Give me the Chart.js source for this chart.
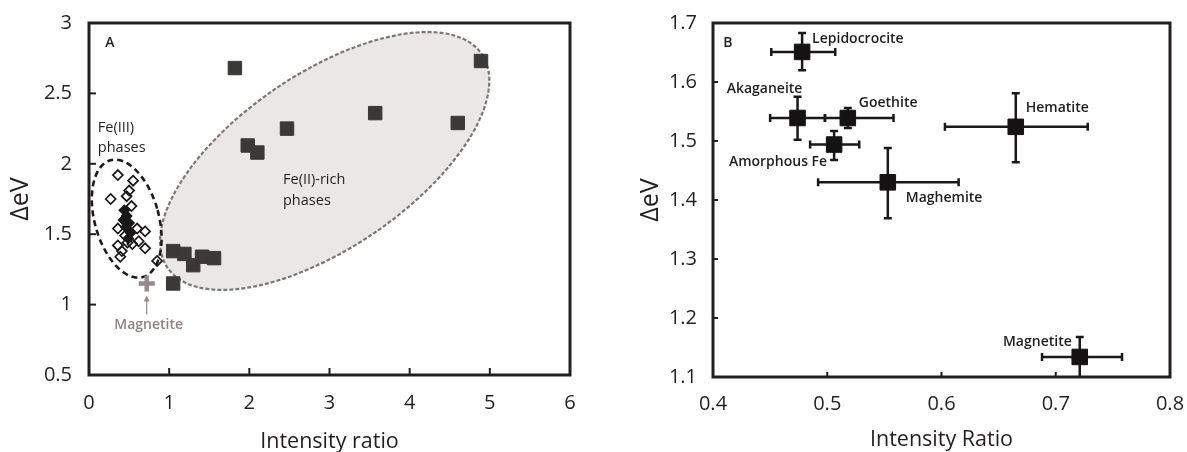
<!DOCTYPE html>
<html>
<head>
<meta charset="utf-8">
<script src="https://cdn.jsdelivr.net/npm/chart.js@4.4.0/dist/chart.umd.min.js"></script>
<style>
  html, body { margin: 0; padding: 0; background: #fff; }
  #wrap { position: relative; width: 1187px; height: 452px; }
  canvas { position: absolute; top: 0; }
  #chartA { left: 0; }
  #chartB { left: 590px; }
</style>
</head>
<body>
<div id="wrap">
  <canvas id="chartA" width="590" height="452"></canvas>
  <canvas id="chartB" width="597" height="452"></canvas>
</div>
<script>
// ---- Panel A: splitting vs. intensity ratio for all spectra ----
const fe3Open = [
  [0.36, 1.92], [0.55, 1.88], [0.50, 1.81], [0.27, 1.75], [0.47, 1.77],
  [0.53, 1.70], [0.36, 1.54], [0.60, 1.54], [0.70, 1.52], [0.45, 1.49],
  [0.62, 1.45], [0.48, 1.44], [0.54, 1.43], [0.36, 1.42], [0.70, 1.40],
  [0.41, 1.38], [0.39, 1.34], [0.85, 1.31]
];
const fe3Filled = [
  [0.44, 1.67], [0.47, 1.63], [0.43, 1.60], [0.50, 1.58], [0.46, 1.55],
  [0.52, 1.51], [0.49, 1.47]
];
const fe2Rich = [
  [1.82, 2.68], [1.98, 2.13], [2.10, 2.08], [2.47, 2.25], [3.57, 2.36],
  [4.60, 2.29], [4.89, 2.73],
  [1.05, 1.38], [1.19, 1.36], [1.30, 1.28], [1.41, 1.34], [1.56, 1.33], [1.05, 1.15]
];
const magnetiteA = [[0.72, 1.15]];

// ---- Panel B: reference minerals (mean and spread) ----
const minerals = ['Lepidocrocite', 'Akaganeite', 'Goethite', 'Amorphous Fe', 'Maghemite', 'Hematite', 'Magnetite'];
const ratioB  = [0.478, 0.474, 0.518, 0.506, 0.553, 0.665, 0.721];
const deltaB  = [1.651, 1.539, 1.539, 1.494, 1.430, 1.524, 1.134];
const ratioLo = [0.451, 0.450, 0.498, 0.485, 0.492, 0.603, 0.688];
const ratioHi = [0.507, 0.498, 0.558, 0.528, 0.615, 0.728, 0.758];
const deltaLo = [1.620, 1.502, 1.522, 1.468, 1.369, 1.464, 1.090];
const deltaHi = [1.683, 1.575, 1.556, 1.517, 1.488, 1.581, 1.168];

// label placement around each mineral point: [dx, dy, align]
const labelPos = [
  [10, -13, 'left'], [-33, -29, 'center'], [11, -15, 'left'], [-7, 17, 'right'],
  [18, 16, 'left'], [10, -19, 'left'], [-8, -15, 'right']
];

// group outlines in panel A (centre in data units, radii in x-axis units)
const fe2Ellipse = { cx: 2.94, cy: 2.02, rx: 2.37, ry: 1.09, angle: -34.2 };
const fe3Ellipse = { cx: 0.47, cy: 1.61, rx: 0.40, ry: 0.756, angle: -15.5 };

const INK = '#231f20';
Chart.defaults.font.family = "'Open Sans', sans-serif";
Chart.defaults.color = INK;

const toXY = arr => arr.map(([x, y]) => ({ x, y }));
const plain = v => String(Number(v.toFixed(2)));

// fixed axis bands so the plot box lands in the same place every time
const fixX = h => s => { s.height = h; s.paddingLeft = 0; s.paddingRight = 0; };
const fixY = w => s => { s.width = w; s.paddingTop = 0; s.paddingBottom = 0; };

// box around the plot plus short inward tick marks
const frame = {
  id: 'frame',
  afterDraw(chart, args, opts) {
    const { ctx, chartArea: a, scales } = chart;
    ctx.save();
    ctx.strokeStyle = INK;
    ctx.lineWidth = 2;
    scales.x.ticks.forEach(t => {
      const px = scales.x.getPixelForValue(t.value);
      if (px <= a.left + 2 || px >= a.right - 2) return;
      ctx.beginPath(); ctx.moveTo(px, a.bottom); ctx.lineTo(px, a.bottom - opts.tick); ctx.stroke();
    });
    scales.y.ticks.forEach(t => {
      const py = scales.y.getPixelForValue(t.value);
      if (py <= a.top + 2 || py >= a.bottom - 2) return;
      ctx.beginPath(); ctx.moveTo(a.left, py); ctx.lineTo(a.left + opts.tick, py); ctx.stroke();
    });
    ctx.lineWidth = 3;
    ctx.strokeRect(a.left, a.top, a.right - a.left, a.bottom - a.top);
    ctx.restore();
  }
};

function text(ctx, str, x, y, font, color, align) {
  ctx.font = font;
  ctx.fillStyle = color;
  ctx.textAlign = align || 'left';
  ctx.textBaseline = 'middle';
  ctx.fillText(str, x, y);
}

// ellipses behind the points, labels on top
const groupsA = {
  id: 'groupsA',
  beforeDatasetsDraw(chart) {
    const { ctx, scales: { x, y } } = chart;
    const k = x.getPixelForValue(1) - x.getPixelForValue(0);
    const draw = (e, fill, stroke, width, dash) => {
      ctx.save();
      ctx.beginPath();
      ctx.ellipse(x.getPixelForValue(e.cx), y.getPixelForValue(e.cy), e.rx * k, e.ry * k,
        e.angle * Math.PI / 180, 0, Math.PI * 2);
      if (fill) { ctx.fillStyle = fill; ctx.fill(); }
      ctx.setLineDash(dash);
      ctx.lineWidth = width;
      ctx.strokeStyle = stroke;
      ctx.stroke();
      ctx.restore();
    };
    draw(fe2Ellipse, '#ece7e7', '#7d7676', 2.2, [4, 2]);
    draw(fe3Ellipse, null, '#1c1a1a', 2.6, [6, 4]);
  },
  afterDatasetsDraw(chart) {
    const { ctx, scales: { x, y } } = chart;
    ctx.save();
    const f = "14.5px 'Open Sans', sans-serif";
    text(ctx, 'A', x.getPixelForValue(0.26), y.getPixelForValue(2.858), "600 14px 'Open Sans', sans-serif", INK, 'center');
    text(ctx, 'Fe(III)', x.getPixelForValue(0.11), y.getPixelForValue(2.254), f, INK);
    text(ctx, 'phases', x.getPixelForValue(0.11), y.getPixelForValue(2.112), f, INK);
    text(ctx, 'Fe(II)-rich', x.getPixelForValue(2.42), y.getPixelForValue(1.885), f, INK);
    text(ctx, 'phases', x.getPixelForValue(2.42), y.getPixelForValue(1.736), f, INK);
    // arrow pointing at the magnetite marker
    const mx = x.getPixelForValue(magnetiteA[0][0]);
    const my = y.getPixelForValue(magnetiteA[0][1]);
    ctx.strokeStyle = '#958a88';
    ctx.fillStyle = '#958a88';
    ctx.lineWidth = 1.2;
    ctx.beginPath(); ctx.moveTo(mx, my + 31); ctx.lineTo(mx, my + 13); ctx.stroke();
    ctx.beginPath(); ctx.moveTo(mx, my + 12); ctx.lineTo(mx - 3, my + 18); ctx.lineTo(mx + 3, my + 18); ctx.closePath(); ctx.fill();
    text(ctx, 'Magnetite', mx + 2, my + 42, "600 14px 'Open Sans', sans-serif", '#8e8381', 'center');
    ctx.restore();
  }
};

new Chart(document.getElementById('chartA'), {
  type: 'scatter',
  data: {
    datasets: [
      { data: toXY(fe2Rich), pointStyle: 'rect', pointRadius: 9.5, backgroundColor: '#3b3838', borderColor: '#3b3838', borderWidth: 1 },
      { data: toXY(fe3Filled), pointStyle: 'rectRot', pointRadius: 5, backgroundColor: '#1a1818', borderColor: '#1a1818', borderWidth: 1.5 },
      { data: toXY(fe3Open), pointStyle: 'rectRot', pointRadius: 5, backgroundColor: 'rgba(255,255,255,0)', borderColor: '#1a1818', borderWidth: 1.7 },
      { data: toXY(magnetiteA), pointStyle: 'cross', pointRadius: 8, borderColor: '#958a88', borderWidth: 4.5 }
    ]
  },
  options: {
    responsive: false,
    animation: false,
    devicePixelRatio: 1,
    layout: { padding: { top: 23, right: 20, left: 0, bottom: 0 } },
    plugins: { legend: { display: false }, tooltip: { enabled: false }, frame: { tick: 7 } },
    scales: {
      x: {
        type: 'linear', min: 0, max: 6,
        ticks: { stepSize: 1, padding: 8, font: { size: 20 }, color: INK, callback: plain },
        grid: { display: false }, border: { display: false },
        title: { display: true, text: 'Intensity ratio', font: { size: 21.5 }, color: INK, padding: { bottom: -3 } },
        afterFit: fixX(77)
      },
      y: {
        type: 'linear', min: 0.5, max: 3,
        ticks: { stepSize: 0.5, padding: 9, font: { size: 20 }, color: INK, callback: plain },
        grid: { display: false }, border: { display: false },
        title: { display: true, text: 'ΔeV', font: { size: 25 }, color: INK, padding: { top: 6 } },
        afterFit: fixY(89)
      }
    }
  },
  plugins: [groupsA, frame]
});

// error bars and mineral names for panel B
const errorBars = {
  id: 'errorBars',
  beforeDatasetsDraw(chart) {
    const { ctx, chartArea: a, scales: { x, y } } = chart;
    ctx.save();
    ctx.beginPath();
    ctx.rect(a.left, a.top, a.right - a.left, a.bottom - a.top);
    ctx.clip();
    ctx.strokeStyle = '#1a1818';
    ctx.lineWidth = 2.5;
    const cap = 4;
    ratioB.forEach((r, i) => {
      const px = x.getPixelForValue(r), py = y.getPixelForValue(deltaB[i]);
      const x0 = x.getPixelForValue(ratioLo[i]), x1 = x.getPixelForValue(ratioHi[i]);
      const y0 = y.getPixelForValue(deltaLo[i]), y1 = y.getPixelForValue(deltaHi[i]);
      ctx.beginPath();
      ctx.moveTo(x0, py); ctx.lineTo(x1, py);
      ctx.moveTo(x0, py - cap); ctx.lineTo(x0, py + cap);
      ctx.moveTo(x1, py - cap); ctx.lineTo(x1, py + cap);
      ctx.moveTo(px, y0); ctx.lineTo(px, y1);
      ctx.moveTo(px - cap, y0); ctx.lineTo(px + cap, y0);
      ctx.moveTo(px - cap, y1); ctx.lineTo(px + cap, y1);
      ctx.stroke();
    });
    ctx.restore();
  },
  afterDatasetsDraw(chart) {
    const { ctx, scales: { x, y } } = chart;
    ctx.save();
    const f = "600 14px 'Open Sans', sans-serif";
    minerals.forEach((name, i) => {
      const [dx, dy, align] = labelPos[i];
      text(ctx, name, x.getPixelForValue(ratioB[i]) + dx, y.getPixelForValue(deltaB[i]) + dy, f, '#1f1d1d', align);
    });
    text(ctx, 'B', x.getPixelForValue(0.413), y.getPixelForValue(1.666), "600 14px 'Open Sans', sans-serif", INK, 'center');
    ctx.restore();
  }
};

new Chart(document.getElementById('chartB'), {
  type: 'scatter',
  data: {
    datasets: [{
      data: ratioB.map((r, i) => ({ x: r, y: deltaB[i] })),
      pointStyle: 'rect', pointRadius: 11, backgroundColor: '#141212', borderColor: '#141212', borderWidth: 1
    }]
  },
  options: {
    responsive: false,
    animation: false,
    devicePixelRatio: 1,
    layout: { padding: { top: 23, right: 17, left: 0, bottom: 0 } },
    plugins: { legend: { display: false }, tooltip: { enabled: false }, frame: { tick: 5 } },
    scales: {
      x: {
        type: 'linear', min: 0.4, max: 0.8,
        ticks: { stepSize: 0.1, padding: 7, font: { size: 20 }, color: INK, callback: plain },
        grid: { display: false }, border: { display: false },
        title: { display: true, text: 'Intensity Ratio', font: { size: 21.5 }, color: INK, padding: { bottom: -1 } },
        afterFit: fixX(75)
      },
      y: {
        type: 'linear', min: 1.1, max: 1.7,
        ticks: { stepSize: 0.1, padding: 8, font: { size: 20 }, color: INK, callback: plain },
        grid: { display: false }, border: { display: false },
        title: { display: true, text: 'ΔeV', font: { size: 25 }, color: INK, padding: { top: 46 } },
        afterFit: fixY(123)
      }
    }
  },
  plugins: [errorBars, frame]
});
</script>
</body>
</html>
